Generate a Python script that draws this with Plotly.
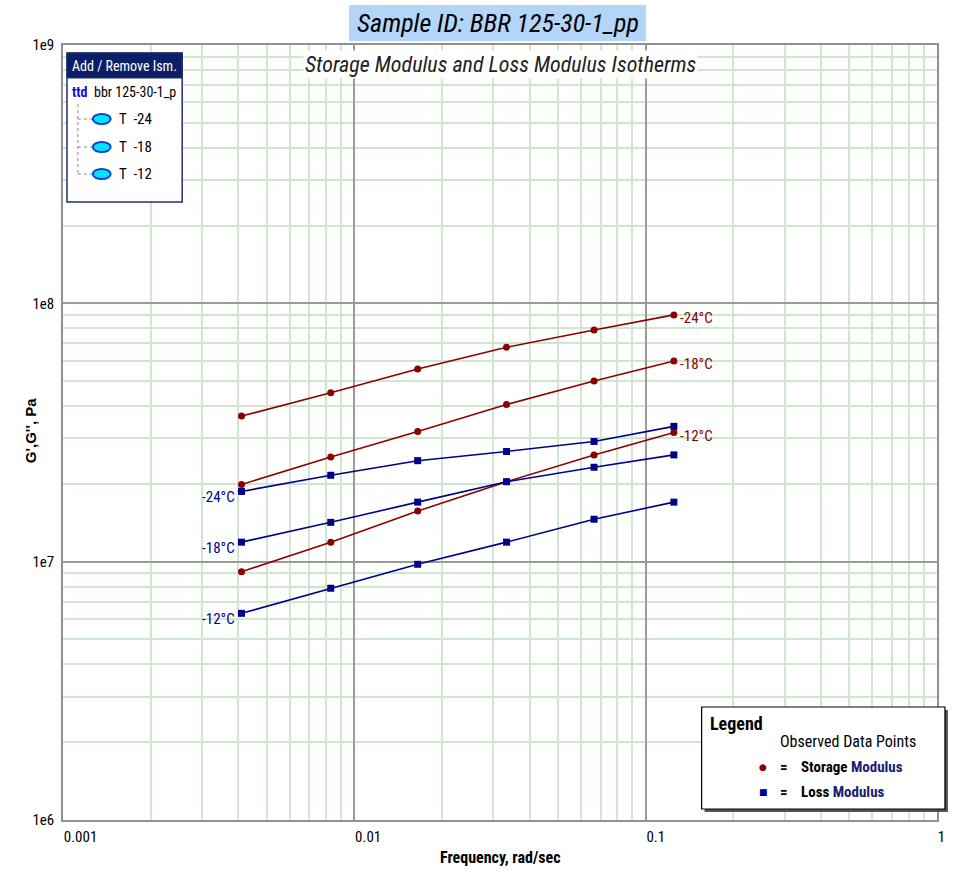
import plotly.graph_objects as go
import math

# ---------------- data ----------------
freq = [0.0041, 0.0083, 0.0165, 0.0333, 0.0665, 0.125]
temps = ["-24", "-18", "-12"]
storage_m24 = [3.66e7, 4.51e7, 5.57e7, 6.76e7, 7.89e7, 9.02e7]
storage_m18 = [1.99e7, 2.54e7, 3.19e7, 4.06e7, 5.00e7, 5.98e7]
storage_m12 = [9.14e6, 1.19e7, 1.57e7, 2.04e7, 2.59e7, 3.16e7]
loss_m24 = [1.87e7, 2.16e7, 2.46e7, 2.67e7, 2.92e7, 3.34e7]
loss_m18 = [1.19e7, 1.42e7, 1.70e7, 2.04e7, 2.32e7, 2.59e7]
loss_m12 = [6.31e6, 7.89e6, 9.77e6, 1.19e7, 1.46e7, 1.70e7]
x_tick_vals = [0.001, 0.01, 0.1, 1]
x_tick_text = ["0.001", "0.01", "0.1", "1"]
y_tick_vals = [1e6, 1e7, 1e8, 1e9]
y_tick_text = ["1e6", "1e7", "1e8", "1e9"]

storage = [storage_m24, storage_m18, storage_m12]
loss = [loss_m24, loss_m18, loss_m12]

RED = "#8b0000"
BLUE = "#00008b"
NARROW = "Liberation Sans Narrow, Arial Narrow, Roboto Condensed, DejaVu Sans Condensed, sans-serif"

W, H = 957, 872
L, R, T, B = 63, 14, 45, 52
PW, PH = W - L - R, H - T - B


def px(x):
    return (x - L) / PW


def py(y):
    return (H - B - y) / PH


fig = go.Figure()

for t, s in zip(temps, storage):
    fig.add_trace(go.Scatter(x=freq, y=s, mode="lines+markers",
                             line=dict(color=RED, width=1.6),
                             marker=dict(symbol="circle", size=7, color=RED),
                             showlegend=False, name="G' " + t))
for t, l in zip(temps, loss):
    fig.add_trace(go.Scatter(x=freq, y=l, mode="lines+markers",
                             line=dict(color=BLUE, width=1.6),
                             marker=dict(symbol="square", size=7, color=BLUE),
                             showlegend=False, name="G'' " + t))

ann = []
shapes = []

# data labels
for t, s in zip(temps, storage):
    ann.append(dict(x=math.log10(freq[-1]), y=math.log10(s[-1]), xref="x", yref="y",
                    text=t + "°C", showarrow=False, xanchor="left", yanchor="middle",
                    xshift=4, yshift=-3, font=dict(family=NARROW, size=15, color=RED)))
for t, l in zip(temps, loss):
    ann.append(dict(x=math.log10(freq[0]), y=math.log10(l[0]), xref="x", yref="y",
                    text=t + "°C", showarrow=False, xanchor="right", yanchor="middle",
                    xshift=-5, yshift=-6, font=dict(family=NARROW, size=15, color=BLUE)))

# title with highlight
shapes.append(dict(type="rect", xref="paper", yref="paper", x0=px(351), x1=px(650),
                   y0=py(41), y1=py(5), fillcolor="#b4d5fa", line=dict(width=0), layer="above"))
ann.append(dict(x=px(501), y=py(23), xref="paper", yref="paper", showarrow=False,
                text="<i>Sample ID: BBR 125-30-1_pp</i>", xanchor="center", yanchor="middle",
                font=dict(family=NARROW, size=26, color="black")))
ann.append(dict(x=px(504), y=py(64), xref="paper", yref="paper", showarrow=False,
                text="<i>Storage Modulus and Loss Modulus Isotherms</i>", xanchor="center",
                yanchor="middle", bgcolor="white",
                font=dict(family=NARROW, size=22, color="#222222")))

# axis titles
ann.append(dict(x=px(503), y=py(857), xref="paper", yref="paper", showarrow=False,
                text="<b>Frequency, rad/sec</b>", xanchor="center", yanchor="middle",
                font=dict(family=NARROW, size=16, color="black")))
ann.append(dict(x=px(30), y=py(430), xref="paper", yref="paper", showarrow=False,
                text="<b>G',G'', Pa</b>", textangle=-90, xanchor="center", yanchor="middle",
                font=dict(family="Liberation Sans, Arial, sans-serif", size=15, color="black")))

# --- top-left isotherm box ---
shapes.append(dict(type="rect", xref="paper", yref="paper", x0=px(67), x1=px(183),
                   y0=py(202), y1=py(53), fillcolor="white",
                   line=dict(color="#1f2f6f", width=1.5), layer="above"))
shapes.append(dict(type="rect", xref="paper", yref="paper", x0=px(67), x1=px(183),
                   y0=py(78), y1=py(53), fillcolor="#0c1f66",
                   line=dict(color="#1f2f6f", width=1), layer="above"))
ann.append(dict(x=px(70), y=py(66), xref="paper", yref="paper", showarrow=False,
                text="Add / Remove Ism.", xanchor="left", yanchor="middle",
                font=dict(family=NARROW, size=14, color="white")))
ann.append(dict(x=px(70), y=py(92), xref="paper", yref="paper", showarrow=False,
                text="<b>ttd</b>", xanchor="left", yanchor="middle",
                font=dict(family=NARROW, size=14, color="#1010d0")))
ann.append(dict(x=px(92), y=py(92), xref="paper", yref="paper", showarrow=False,
                text="bbr 125-30-1_p", xanchor="left", yanchor="middle",
                font=dict(family=NARROW, size=14, color="black")))
shapes.append(dict(type="line", xref="paper", yref="paper", x0=px(78), x1=px(78),
                   y0=py(104), y1=py(175), line=dict(color="#888888", width=1, dash="dot"),
                   layer="above"))
for i, (t, yy) in enumerate(zip(temps, [119, 147, 174])):
    shapes.append(dict(type="line", xref="paper", yref="paper", x0=px(78), x1=px(93),
                       y0=py(yy), y1=py(yy), line=dict(color="#888888", width=1, dash="dot"),
                       layer="above"))
    shapes.append(dict(type="circle", xref="paper", yref="paper", x0=px(93), x1=px(111),
                       y0=py(yy + 5), y1=py(yy - 5), fillcolor="#00e5ff",
                       line=dict(color="#1040d0", width=2), layer="above"))
    ann.append(dict(x=px(117), y=py(yy), xref="paper", yref="paper", showarrow=False,
                    text="T  " + t, xanchor="left", yanchor="middle",
                    font=dict(family=NARROW, size=15, color="black")))

# --- bottom-right legend box ---
shapes.append(dict(type="rect", xref="paper", yref="paper", x0=px(709), x1=px(954),
                   y0=py(812), y1=py(710), fillcolor="#555555", line=dict(width=0), layer="above"))
shapes.append(dict(type="rect", xref="paper", yref="paper", x0=px(706), x1=px(951),
                   y0=py(809), y1=py(707), fillcolor="white",
                   line=dict(color="black", width=1.2), layer="above"))
ann.append(dict(x=px(712), y=py(723), xref="paper", yref="paper", showarrow=False,
                text="<b>Legend</b>", xanchor="left", yanchor="middle",
                font=dict(family=NARROW, size=18, color="black")))
ann.append(dict(x=px(783), y=py(741), xref="paper", yref="paper", showarrow=False,
                text="Observed Data Points", xanchor="left", yanchor="middle",
                font=dict(family=NARROW, size=16, color="black")))
for yy, sym, col, word in [(767, "●", RED, "Storage"), (792, "■", BLUE, "Loss")]:
    ann.append(dict(x=px(768), y=py(yy), xref="paper", yref="paper", showarrow=False,
                    text=sym, xanchor="center", yanchor="middle",
                    font=dict(family="DejaVu Sans", size=9, color=col)))
    ann.append(dict(x=px(783), y=py(yy), xref="paper", yref="paper", showarrow=False,
                    text="<b>=</b>", xanchor="left", yanchor="middle",
                    font=dict(family=NARROW, size=15, color="black")))
    ann.append(dict(x=px(804), y=py(yy), xref="paper", yref="paper", showarrow=False,
                    text="<b>" + word + "</b> <b><span style='color:#1c1c70'>Modulus</span></b>",
                    xanchor="left", yanchor="middle",
                    font=dict(family=NARROW, size=15, color="black")))

axis_common = dict(type="log", showline=True, mirror=True, linecolor="#909090", linewidth=1.5,
                   showgrid=True, gridcolor="#9a9a9a", gridwidth=1.5, ticks="",
                   zeroline=False, dtick=1,
                   minor=dict(dtick="D1", showgrid=True, gridcolor="#cfe6cf", gridwidth=1.5,
                              ticks=""),
                   tickfont=dict(family=NARROW, size=15, color="black"))

fig.update_layout(
    width=W, height=H,
    margin=dict(l=L, r=R, t=T, b=B),
    paper_bgcolor="white", plot_bgcolor="white",
    xaxis=dict(axis_common, range=[-3, 0], tickvals=x_tick_vals, ticktext=x_tick_text,
               ticklabelposition="outside right", ticklabelstandoff=2),
    yaxis=dict(axis_common, range=[6, 9], tickvals=y_tick_vals, ticktext=y_tick_text,
               ticklabelstandoff=4),
    annotations=ann, shapes=shapes,
    showlegend=False,
)

fig.write_html("out.html")
